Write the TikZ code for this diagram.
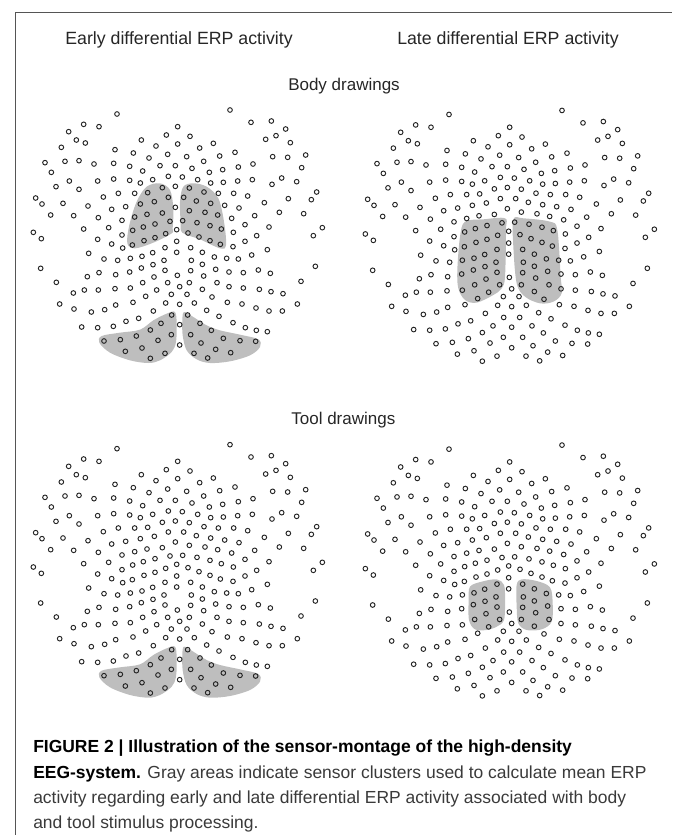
\documentclass[tikz,border=0pt]{standalone}
\usepackage{fontspec}
\setmainfont{Liberation Sans}
\usepackage{xcolor}
\definecolor{clusterfill}{HTML}{BEBEBE}
\definecolor{sensorline}{HTML}{222222}
\definecolor{frameline}{HTML}{555555}
\definecolor{captext}{HTML}{3A3A3A}
\tikzset{
  sensor/.style={draw=sensorline, line width=0.7pt},
  cluster/.style={fill=clusterfill, draw=none},
  heading/.style={font=\fontsize{13.3}{16}\selectfont, text=black!85, inner sep=0pt},
  subheading/.style={font=\fontsize{12.75}{16}\selectfont, text=black!85, inner sep=0pt},
  caption/.style={font=\fontsize{13.1}{18.9}\selectfont, text=captext, align=left, inner sep=0pt, anchor=north west},
  frame/.style={draw=frameline, line width=0.8pt}
}
\def\sensorlist{291/41,630/29,693/66,754/62,797/86,191/72,237/79,146/94,473/79,439/104,510/108,364/119,169/119,196/128,124/141,408/137,473/131,580/129,737/117,768/106,811/127,285/148,539/143,645/156,340/158,443/162,500/169,599/167,387/173,758/169,803/171,857/164,75/187,135/183,177/181,222/191,281/189,329/198,420/196,466/196,551/183,699/191,655/200,845/202,94/216,368/212,516/204,568/216,608/208,148/242,233/242,281/236,329/240,361/248,398/238,445/228,487/230,533/238,572/248,610/246,653/242,697/238,785/233,756/252,830/244,108/259,177/267,427/262,466/258,508/263,552/275,595/279,641/279,683/287,890/275,250/290,295/279,344/279,383/277,445/291,491/291,805/295,874/298,47/293,66/311,129/309,204/317,361/311,403/304,529/302,572/309,733/307,275/327,317/319,466/321,508/331,614/315,657/323,92/344,161/346,235/352,306/360,344/350,381/342,427/338,555/336,593/344,635/354,704/346,778/336,851/340,191/386,266/382,338/390,370/380,405/371,450/363,488/361,531/367,570/376,604/386,675/373,747/380,907/382,40/396,64/415,233/417,306/404,437/400,470/388,504/398,537/410,640/396,710/406,880/406,372/421,405/412,275/431,308/443,337/434,470/423,570/421,601/432,639/439,675/423,206/459,252/476,293/480,331/474,366/468,398/457,435/442,470/456,512/442,547/456,583/470,620/474,655/476,695/464,742/448,62/504,886/498,514/480,547/492,432/480,399/493,364/503,329/515,287/523,237/517,202/529,435/510,472/525,512/511,551/527,587/507,627/515,670/517,715/509,751/519,402/530,109/546,843/543,368/547,331/563,285/565,235/569,193/569,160/578,443/547,508/547,479/559,410/569,591/547,627/559,670/563,718/567,753/574,789/580,547/567,454/582,501/582,377/588,576/590,119/611,162/626,214/635,254/628,287/614,339/606,437/608,479/612,523/608,622/606,666/611,708/623,747/632,787/632,832/611,400/632,560/630,455/644,503/644,597/648,356/654,318/663,280/678,233/682,185/680,423/669,479/673,540/669,639/667,676/682,709/690,742/694,391/689,574/690,349/707,454/703,512/703,610/714,301/718,252/722,414/720,660/721,707/723,543/728,366/743,479/734,587/747,316/753,435/759,522/759,632/757,391/774,563/773}
\newcommand{\drawsensors}{%
  \foreach \sx/\sy in \sensorlist {
    \draw[sensor] (\sx,\sy) circle (7);
  }%
}
% lower pair of gray lobes, same in both early panels
\newcommand{\drawlobes}{%
  \fill[cluster] plot[smooth cycle, tension=0.55] coordinates {(465,635) (470,670) (468,725) (455,755) (420,780) (385,788) (330,780) (270,757) (238,727) (245,707) (300,697) (360,688) (400,660) (440,640)};
  \fill[cluster] plot[smooth cycle, tension=0.55] coordinates {(492,635) (520,650) (560,675) (600,690) (660,703) (715,717) (720,740) (690,765) (630,783) (570,788) (530,777) (500,750) (488,705) (487,660)};
}
\begin{document}
\begin{tikzpicture}[x=0.25pt, y=-0.25pt]
    \useasboundingbox (0,0) rectangle (2016,2505);
    % Frame
    \draw[frame] (46,2505) |- (2016,38);

    % Headings
    \node[heading, anchor=base] (early) at (537,133) {Early differential ERP activity};
    \node[heading, anchor=base] (late) at (1524,133) {Late differential ERP activity};
    \node[subheading, anchor=base] (body) at (1032,272) {Body drawings};
    \node[subheading, anchor=base] (tool) at (1030,1272) {Tool drawings};

    % Early, body
    \begin{scope}[shift={(60,301)}]
      \fill[cluster] plot[smooth cycle, tension=0.55] coordinates {(420,249) (450,269) (460,324) (458,384) (455,399) (400,427) (345,444) (322,429) (328,374) (350,304) (380,259)};
      \fill[cluster] plot[smooth cycle, tension=0.55] coordinates {(520,249) (490,259) (480,304) (482,364) (487,397) (540,417) (600,444) (618,434) (612,364) (595,294) (560,259)};
      \drawlobes
      \drawsensors
    \end{scope}

    % Late, body
    \begin{scope}[shift={(1050,540)}]
      \fill[cluster] plot[smooth cycle, tension=0.55] coordinates {(465,115) (468,150) (465,290) (455,325) (430,345) (380,368) (345,360) (325,325) (322,270) (330,170) (345,125) (400,118)};
      \fill[cluster] plot[smooth cycle, tension=0.55] coordinates {(490,118) (520,115) (600,125) (622,150) (632,290) (635,340) (610,365) (570,370) (525,350) (500,310) (490,200)};
    \end{scope}
    \begin{scope}[shift={(1056,302)}, yscale=1.0098]
      \drawsensors
    \end{scope}

    % Early, tool
    \begin{scope}[shift={(60,1305)}]
      \drawlobes
      \drawsensors
    \end{scope}

    % Late, tool
    \begin{scope}[shift={(1050,1500)}]
      \fill[cluster] plot[smooth cycle, tension=0.55] coordinates {(440,238) (462,255) (465,300) (462,360) (440,380) (410,390) (375,388) (357,360) (356,300) (360,260) (395,245)};
      \fill[cluster] plot[smooth cycle, tension=0.55] coordinates {(515,238) (560,243) (600,262) (608,310) (605,365) (575,388) (530,390) (505,370) (500,320) (500,255)};
    \end{scope}
    \begin{scope}[shift={(1056,1306)}, yscale=1.0098]
      \drawsensors
    \end{scope}

    % Caption
    \node[caption] (cap) at (99,2220) {\textbf{\textcolor{black}{FIGURE 2 | Illustration of the sensor-montage of the high-density}}\\
      \textbf{\textcolor{black}{EEG-system.}} Gray areas indicate sensor clusters used to calculate mean ERP\\
      activity regarding early and late differential ERP activity associated with body\\
      and tool stimulus processing.};
\end{tikzpicture}
\end{document}
